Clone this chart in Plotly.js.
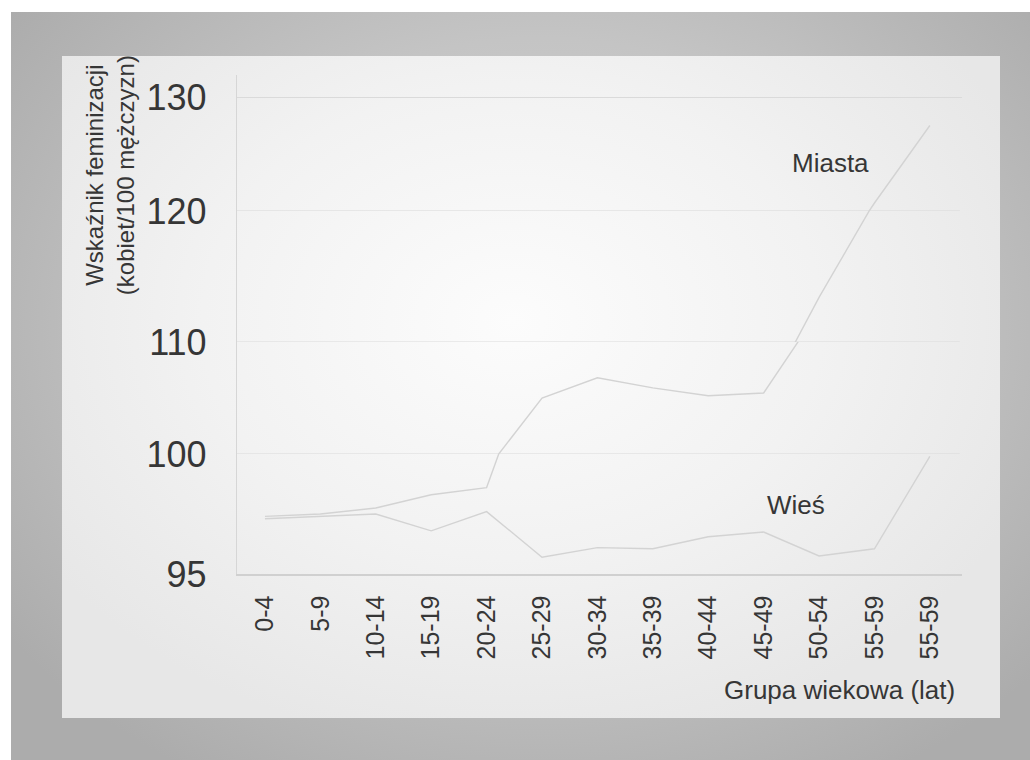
<!DOCTYPE html>
<html>
<head>
<meta charset="utf-8">
<script src="https://cdn.plot.ly/plotly-3.0.1.min.js"></script>
<style>
  html, body { margin:0; padding:0; background:#ffffff; width:1030px; height:760px; overflow:hidden; }
  #bg { position:absolute; left:11px; top:12px; width:1019px; height:748px;
        background: radial-gradient(ellipse 65% 70% at 52% 42%, #d6d6d6 0%, #c4c4c4 55%, #acacac 100%); }
  #panel { position:absolute; left:62px; top:56px; width:938px; height:662px;
        background: radial-gradient(ellipse 60% 65% at 48% 40%, #fcfcfc 0%, #f2f2f2 55%, #e7e7e7 100%); }
  #chart { position:absolute; left:0; top:0; width:1030px; height:760px; }
</style>
</head>
<body>
<div id="bg"></div>
<div id="panel"></div>
<div id="chart"></div>
<script>
// ---- data ----
const ageGroups = ['0-4','5-9','10-14','15-19','20-24','25-29','30-34','35-39','40-44','45-49','50-54','55-59','55-59'];
const miastaValues = [97.4, 97.5, 97.75, 98.3, 98.6, 105.0, 106.8, 105.9, 105.2, 105.45, 113.4, 120.7, 127.5];
const wiesValues   = [97.3, 97.4, 97.5, 96.8, 97.6, 95.7, 96.1, 96.05, 96.55, 96.75, 95.75, 96.05, 99.9];
const yTickLabels  = ['95','100','110','120','130'];
const seriesNames  = ['Miasta','Wieś'];

// ---- layout helpers ----
const xIdx = ageGroups.map((_, i) => i);
const FONT = '"Liberation Sans", Arial, sans-serif';
const TXT = '#363636';
const LINE = '#d3d3d3';
const GRID = '#dadada';

// the printed value axis is not evenly scaled: one linear band per pair of labels
const bands = [
  {range:[95,100],    domain:[0, 0.2405],      tickvals:[95,100], ticktext:[yTickLabels[0], yTickLabels[1]]},
  {range:[100,110],   domain:[0.2405, 0.4649], tickvals:[110],    ticktext:[yTickLabels[2]]},
  {range:[110,120],   domain:[0.4649, 0.7275], tickvals:[120],    ticktext:[yTickLabels[3]]},
  {range:[120,131.93],domain:[0.7275, 1],      tickvals:[130],    ticktext:[yTickLabels[4]]}
];

const traces = [];
const layout = {
  width:1030, height:760,
  margin:{l:237, r:68, t:75, b:186},
  paper_bgcolor:'rgba(0,0,0,0)',
  plot_bgcolor:'rgba(0,0,0,0)',
  showlegend:false,
  hovermode:false,
  font:{family:FONT, color:TXT},
  xaxis:{
    range:[-0.505, 12.58],
    tickmode:'array', tickvals:xIdx, ticktext:ageGroups,
    tickangle:-90, tickfont:{size:25, color:TXT, family:FONT},
    ticks:'outside', ticklen:10, tickcolor:'rgba(0,0,0,0)',
    showgrid:false, zeroline:false,
    showline:true, linecolor:'#d0d0d0', linewidth:1.5,
    anchor:'y', fixedrange:true
  },
  shapes:[],
  annotations:[]
};

bands.forEach((b, k) => {
  const yName = k === 0 ? 'y' : 'y' + (k + 1);
  const axKey = k === 0 ? 'yaxis' : 'yaxis' + (k + 1);
  layout[axKey] = {
    domain:b.domain, range:b.range,
    tickmode:'array', tickvals:b.tickvals, ticktext:b.ticktext,
    tickfont:{size:36, color:TXT, family:FONT},
    ticks:'outside', ticklen:22, tickcolor:'rgba(0,0,0,0)',
    showgrid:true, gridcolor:GRID, gridwidth:1,
    zeroline:false, showline:true, linecolor:'#d6d6d6', linewidth:1.2,
    anchor:'x', fixedrange:true
  };
  // grid line at the lower edge of each upper band (the axis hides edge grid lines)
  if (k > 0) {
    layout.shapes.push({type:'line', xref:'paper', yref:yName, x0:0, x1:0.997,
      y0:b.range[0], y1:b.range[0], line:{color:GRID, width:1}, layer:'below'});
  }
  [miastaValues, wiesValues].forEach((vals, s) => {
    traces.push({
      type:'scatter', mode:'lines', name:seriesNames[s],
      x:xIdx, y:vals, xaxis:'x', yaxis:yName,
      line:{color:LINE, width:1.4},
      hoverinfo:'skip'
    });
  });
});

layout.annotations = [
  {text:'Wskaźnik feminizacji<br>(kobiet/100 mężczyzn)', xref:'paper', yref:'paper',
   x:-0.176, y:0.80, xanchor:'center', yanchor:'middle', textangle:-90, showarrow:false,
   font:{size:24, color:TXT, family:FONT}},
  {text:'Grupa wiekowa (lat)', xref:'paper', yref:'paper',
   x:0.993, y:-0.2325, xanchor:'right', yanchor:'middle', showarrow:false,
   font:{size:26, color:TXT, family:FONT}},
  {text:seriesNames[0], xref:'paper', yref:'paper',
   x:0.818, y:0.8236, xanchor:'center', yanchor:'middle', showarrow:false,
   font:{size:26, color:TXT, family:FONT}},
  {text:seriesNames[1], xref:'paper', yref:'paper',
   x:0.771, y:0.1383, xanchor:'center', yanchor:'middle', showarrow:false,
   font:{size:26, color:TXT, family:FONT}}
];

Plotly.newPlot('chart', traces, layout, {displayModeBar:false, staticPlot:true});
</script>
</body>
</html>
